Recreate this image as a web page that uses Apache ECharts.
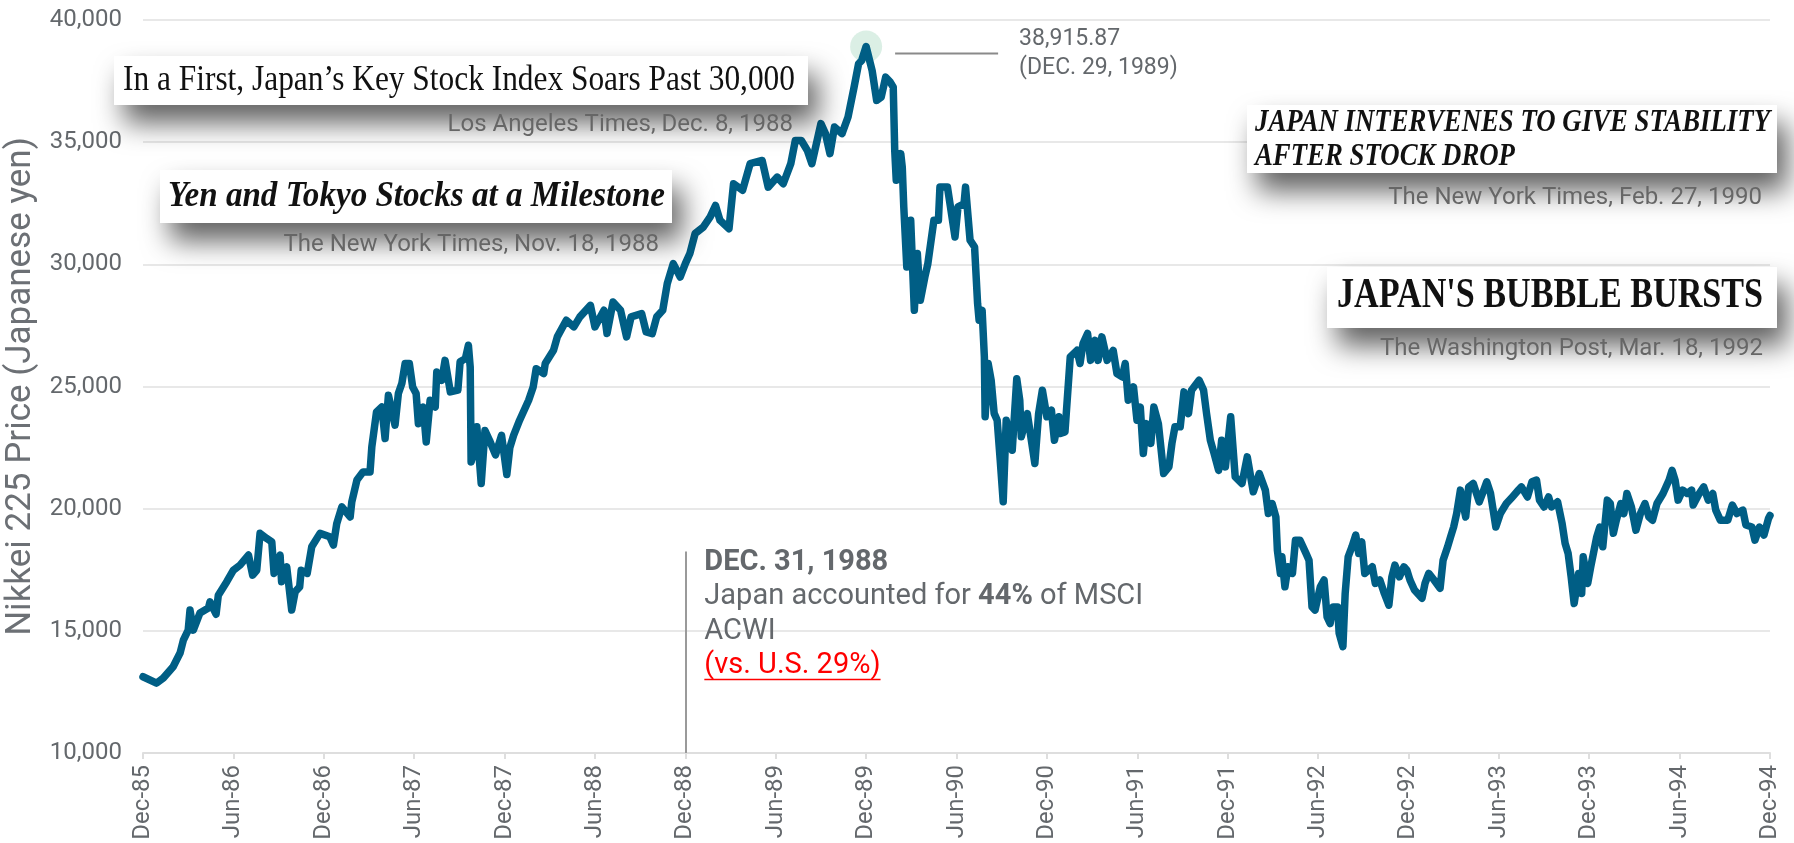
<!DOCTYPE html>
<html>
<head>
    <meta charset="utf-8">
    <title>Nikkei 225</title>
    <script src="https://cdn.jsdelivr.net/npm/echarts@6/dist/echarts.min.js"></script>
    <style>html, body { margin: 0; padding: 0; background: #fff; }</style>
</head>
<body>
    <div id="main" style="width: 1794px;height:843px;"></div>
    <script type="text/javascript">

        // months after the end of Dec 1985
        var months = [
            0, 0.9, 1.35, 2.0, 2.46, 2.68, 3.0, 3.12, 3.34, 3.78, 4.34, 4.45, 4.85, 5.0, 5.56, 6.0, 6.44, 7.0, 7.28, 7.55,
            7.77, 8.21, 8.55, 8.7, 9.1, 9.2, 9.54, 9.87, 10.1, 10.4, 10.5, 10.9, 11.2, 11.75, 12.4, 12.64, 12.86, 13.2, 13.75, 13.86,
            14.2, 14.6, 15.07, 15.19, 15.5, 15.85, 16.07, 16.29, 16.73, 16.95, 17.18, 17.4, 17.68, 17.9, 18.13, 18.28, 18.6, 18.8, 19.06, 19.4,
            19.5, 19.83, 20.05, 20.4, 20.9, 21.05, 21.4, 21.6, 21.72, 21.78, 22.0, 22.16, 22.45, 22.7, 23.0, 23.4, 23.8, 24.15, 24.35, 24.6,
            25.0, 25.6, 25.9, 26.1, 26.6, 26.7, 27.25, 27.5, 28.1, 28.6, 29.0, 29.7, 30.0, 30.6, 30.8, 31.2, 31.7, 32.1, 32.4, 33.1,
            33.4, 33.8, 34.1, 34.5, 34.8, 35.2, 35.66, 36.0, 36.3, 36.65, 37.2, 37.65, 38.0, 38.3, 38.9, 39.2, 39.8, 40.3, 41.1, 41.5,
            42.1, 42.5, 43.0, 43.3, 43.7, 44.1, 44.4, 45.0, 45.3, 45.6, 45.9, 46.4, 46.8, 47.2, 47.5, 47.7, 48.0, 48.4, 48.7, 49.0,
            49.3, 49.6, 49.8, 49.9, 50.0, 50.3, 50.4, 50.5, 50.7, 50.96, 51.2, 51.4, 51.6, 51.9, 52.1, 52.5, 52.8, 52.9, 53.4, 53.6,
            53.9, 54.1, 54.5, 54.6, 54.9, 55.2, 55.4, 55.5, 55.7, 55.85, 55.9, 56.1, 56.3, 56.5, 56.7, 56.9, 57.1, 57.3, 57.7, 58.0,
            58.2, 58.3, 58.7, 59.0, 59.2, 59.45, 59.7, 60.0, 60.3, 60.5, 60.8, 60.9, 61.2, 61.55, 62.0, 62.2, 62.4, 62.7, 62.9, 63.2,
            63.4, 63.65, 64.0, 64.4, 64.65, 65.0, 65.2, 65.4, 65.75, 65.98, 66.2, 66.4, 66.6, 66.9, 67.1, 67.4, 67.75, 68.1, 68.3, 68.5,
            68.85, 69.1, 69.4, 69.6, 70.1, 70.4, 70.6, 70.85, 71.1, 71.4, 71.6, 71.85, 72.2, 72.5, 72.95, 73.3, 73.7, 74.1, 74.5, 74.7,
            74.95, 75.2, 75.3, 75.5, 75.6, 75.8, 76.0, 76.3, 76.5, 76.8, 77.2, 77.4, 77.6, 77.8, 78.15, 78.4, 78.6, 78.8, 79.0, 79.3,
            79.4, 79.65, 79.8, 80.0, 80.25, 80.5, 80.7, 80.9, 81.1, 81.6, 81.8, 82.1, 82.4, 82.7, 82.9, 83.1, 83.4, 83.7, 83.9, 84.1,
            84.4, 84.9, 85.1, 85.35, 85.7, 86.1, 86.3, 86.6, 86.8, 87.0, 87.2, 87.45, 87.8, 88.0, 88.3, 88.7, 89.0, 89.2, 89.45, 89.8,
            90.1, 90.5, 90.9, 91.3, 91.5, 91.9, 92.2, 92.5, 92.7, 93.0, 93.3, 93.5, 93.9, 94.2, 94.4, 94.6, 94.8, 95.0, 95.3, 95.5,
            95.6, 95.9, 96.1, 96.5, 96.7, 96.9, 97.2, 97.4, 97.6, 97.8, 98.1, 98.3, 98.5, 98.8, 99.1, 99.4, 99.7, 99.96, 100.2, 100.5,
            100.9, 101.3, 101.5, 101.7, 101.9, 102.2, 102.5, 102.8, 102.9, 103.3, 103.6, 103.9, 104.2, 104.4, 104.7, 105.2, 105.5, 105.8, 106.2, 106.4,
            106.8, 107.0, 107.3, 107.6, 107.9, 108.0
        ];

        // Nikkei 225 close (yen)
        var nikkei = [
            13120, 12860, 13070, 13530, 14090, 14620, 15030, 15850, 15030, 15730, 15930, 16190, 15680, 16460, 17010, 17480, 17690, 18100, 17280, 17480,
            18990, 18780, 18640, 17350, 18100, 17010, 17620, 15850, 16600, 16800, 17480, 17350, 18440, 18990, 18850, 18510, 19390, 20070, 19660, 20280,
            21170, 21500, 21500, 22530, 23960, 24160, 22870, 24640, 23420, 24710, 25120, 25940, 25940, 24980, 24710, 23480, 24160, 22730, 24440, 24160,
            25590, 25250, 26070, 24780, 24850, 26010, 26140, 26690, 25800, 21910, 22400, 23350, 21030, 23200, 22800, 22200, 23000, 21400, 22500, 23000,
            23620, 24440, 24980, 25730, 25530, 25940, 26480, 27030, 27710, 27440, 27850, 28320, 27440, 28120, 27170, 28460, 28120, 27030, 27850, 27980,
            27230, 27160, 27850, 28120, 29210, 30030, 29480, 30030, 30440, 31260, 31530, 31940, 32410, 31800, 31460, 33300, 33030, 34120, 34250, 33160,
            33570, 33300, 34120, 35070, 35070, 34660, 34120, 35760, 35350, 34530, 35620, 35350, 36030, 37250, 38210, 38340, 38915.87, 37930, 36710, 36840,
            37660, 37460, 37250, 34660, 33440, 34530, 33980, 32350, 29890, 31800, 28120, 30440, 28530, 29480, 30030, 31800, 31800, 33160, 33160, 32350,
            31120, 32350, 32480, 33160, 30990, 30710, 28400, 27710, 28120, 26210, 23760, 25940, 25260, 23900, 23620, 22000, 20280, 23620, 22390, 25320,
            24440, 22940, 23890, 22670, 21850, 23890, 24850, 23760, 24030, 22800, 23760, 23080, 23140, 26210, 26480, 25940, 26760, 27170, 26070, 26890,
            26070, 27030, 26070, 26480, 25530, 25390, 25940, 24440, 24980, 23620, 24160, 22260, 23480, 22670, 24160, 23480, 21440, 21710, 22670, 23350,
            23350, 24780, 23890, 24850, 25260, 24850, 23890, 22800, 22260, 21570, 22800, 21710, 23760, 21300, 21030, 22120, 20690, 21440, 20760, 19800,
            20210, 19660, 18300, 17350, 18030, 16800, 17620, 17350, 18710, 18710, 18170, 17890, 15980, 15850, 16800, 17080, 15570, 15300, 15980, 15980,
            14900, 14350, 16530, 18030, 18440, 18920, 18170, 18640, 17350, 17620, 16940, 17080, 16530, 16050, 17210, 17690, 17210, 17620, 17480, 17080,
            16670, 16330, 16940, 17350, 17080, 16740, 17890, 18440, 18850, 19250, 19800, 20760, 19660, 20890, 21030, 20280, 20760, 21100, 20620, 19250,
            19800, 20210, 20480, 20760, 20890, 20480, 21100, 21170, 20350, 20070, 20480, 20070, 20280, 19390, 18580, 18170, 17210, 16120, 17350, 16530,
            18030, 16940, 17620, 18850, 19250, 18440, 20350, 20210, 18990, 19530, 20210, 19800, 20620, 20070, 19120, 19800, 20210, 19660, 19530, 20210,
            20620, 21170, 21570, 21170, 20350, 20760, 20620, 20760, 20150, 20620, 20890, 20350, 20620, 19940, 19530, 19530, 20150, 19800, 19940, 19330,
            19250, 18710, 19250, 18920, 19600, 19720
        ];

        var tickLabels = ['Dec-85', 'Jun-86', 'Dec-86', 'Jun-87', 'Dec-87', 'Jun-88', 'Dec-88', 'Jun-89', 'Dec-89', 'Jun-90',
            'Dec-90', 'Jun-91', 'Dec-91', 'Jun-92', 'Dec-92', 'Jun-93', 'Dec-93', 'Jun-94', 'Dec-94'];

        var peak = [48, 38915.87];     // Dec 29, 1989
        var msciMonth = 36;            // Dec 31, 1988

        var grey = '#64686c';
        var sans = 'Roboto';

        var myChart = echarts.init(document.getElementById('main'));

        option = {
            animation: false,
            grid: { left: 143, right: 24, top: 20, bottom: 90, containLabel: false, outerBoundsMode: 'none' },
            xAxis: {
                type: 'value',
                min: 0,
                max: 108,
                interval: 6,
                axisLine: { show: true, lineStyle: { color: '#dedede', width: 2 } },
                axisTick: { show: true, length: 6, lineStyle: { color: '#dedede', width: 2 } },
                splitLine: { show: false },
                axisLabel: {
                    rotate: 90,
                    margin: 12,
                    color: grey,
                    fontFamily: sans,
                    fontSize: 24,
                    formatter: function (v) { return tickLabels[Math.round(v / 6)]; }
                }
            },
            yAxis: {
                type: 'value',
                min: 10000,
                max: 40000,
                interval: 5000,
                name: 'Nikkei 225 Price (Japanese yen)',
                nameLocation: 'middle',
                nameRotate: 90,
                nameGap: 102,
                nameTextStyle: { color: '#6c7075', fontFamily: sans, fontSize: 35 },
                axisLine: { show: false },
                axisTick: { show: false },
                splitLine: { lineStyle: { color: '#e8e8e8', width: 2 } },
                axisLabel: {
                    margin: 21,
                    color: grey,
                    fontFamily: sans,
                    fontSize: 24,
                    formatter: function (v) { return v.toLocaleString('en-US'); }
                }
            },
            series: [
                {
                    // soft halo at the peak, under the line
                    type: 'scatter',
                    z: 1,
                    silent: true,
                    symbolSize: 32,
                    itemStyle: { color: 'rgba(165,215,190,0.5)' },
                    data: [peak]
                },
                {
                    name: 'Nikkei 225',
                    type: 'line',
                    z: 3,
                    showSymbol: false,
                    symbol: 'none',
                    lineStyle: { color: '#005e85', width: 7.5, join: 'round', cap: 'round' },
                    data: months.map(function (m, i) { return [m, nikkei[i]]; }),
                    markLine: {
                        silent: true,
                        symbol: 'none',
                        label: { show: false },
                        lineStyle: { color: '#9a9a9a', width: 2, type: 'solid' },
                        data: [[{ coord: [msciMonth, 10000] }, { coord: [msciMonth, 18250] }]]
                    }
                }
            ]
        };

        myChart.setOption(option);

        // ---- annotations ----
        var ctx = document.createElement('canvas').getContext('2d');
        function textWidth(str, font) {
            ctx.font = font;
            return ctx.measureText(str).width;
        }

        var serif = '"Liberation Serif", "DejaVu Serif", serif';
        var headlines = [
            { lines: ['In a First, Japan\u2019s Key Stock Index Soars Past 30,000'], style: 'normal', weight: 'normal', size: 36,
              box: [114, 56, 694, 49], textX: 123, textW: 672, lineY: [81],
              source: 'Los Angeles Times, Dec. 8, 1988', srcRight: 793, srcY: 125 },
            { lines: ['Yen and Tokyo Stocks at a Milestone'], style: 'italic', weight: 'bold', size: 35,
              box: [160, 170, 512, 53], textX: 168, textW: 497, lineY: [197],
              source: 'The New York Times, Nov. 18, 1988', srcRight: 659, srcY: 245 },
            { lines: ['JAPAN INTERVENES TO GIVE STABILITY', 'AFTER STOCK DROP'], style: 'italic', weight: 'bold', size: 32,
              box: [1247, 105, 530, 68], textX: 1255, textW: 515, lineY: [123, 157],
              source: 'The New York Times, Feb. 27, 1990', srcRight: 1762, srcY: 198 },
            { lines: ['JAPAN\'S BUBBLE BURSTS'], style: 'normal', weight: 'bold', size: 43,
              box: [1327, 267, 450, 61], textX: 1337, textW: 426, lineY: [296],
              source: 'The Washington Post, Mar. 18, 1992', srcRight: 1763, srcY: 349 }
        ];

        var graphics = [];
        headlines.forEach(function (h) {
            var font = h.style + ' ' + h.weight + ' ' + h.size + 'px ' + serif;
            var sx = h.textW / textWidth(h.lines[0], font);
            graphics.push({
                type: 'rect', z: 100,
                shape: { x: h.box[0], y: h.box[1], width: h.box[2], height: h.box[3] },
                style: { fill: '#fff', shadowColor: 'rgba(0,0,0,0.62)', shadowBlur: 28, shadowOffsetX: 10, shadowOffsetY: 18 }
            });
            h.lines.forEach(function (line, k) {
                graphics.push({
                    type: 'text', z: 101,
                    x: h.textX, y: h.lineY[k], scaleX: sx,
                    style: {
                        text: line, fill: '#111', fontFamily: serif, fontSize: h.size,
                        fontStyle: h.style, fontWeight: h.weight, align: 'left', verticalAlign: 'middle'
                    }
                });
            });
            graphics.push({
                type: 'text', z: 101,
                x: h.srcRight, y: h.srcY,
                style: { text: h.source, fill: '#666', fontFamily: sans, fontSize: 24, align: 'right', verticalAlign: 'middle' }
            });
        });

        // peak call-out
        var pk = myChart.convertToPixel({ gridIndex: 0 }, peak);
        graphics.push({
            type: 'line', z: 100,
            shape: { x1: pk[0] + 29, y1: pk[1] + 7, x2: pk[0] + 132, y2: pk[1] + 7 },
            style: { stroke: '#8a8a8a', lineWidth: 2 }
        });
        graphics.push({
            type: 'text', z: 100,
            x: pk[0] + 153, y: pk[1] - 22,
            style: { text: '38,915.87\n(DEC. 29, 1989)', fill: grey, fontFamily: sans, fontSize: 23, lineHeight: 29, align: 'left', verticalAlign: 'top' }
        });

        // MSCI note beside the Dec 31, 1988 marker
        var mx = myChart.convertToPixel({ gridIndex: 0 }, [msciMonth, 10000])[0];
        var noteX = mx + 19, noteY = 545, lh = 34.5, fs = 29;
        graphics.push({
            type: 'text', z: 100,
            x: noteX, y: noteY,
            style: {
                text: '{b|DEC. 31, 1988}\n{n|Japan accounted for }{b|44%}{n| of MSCI}\n{n|ACWI}\n{r|(vs. U.S. 29%)}',
                fontFamily: sans, fontSize: fs, lineHeight: lh, align: 'left', verticalAlign: 'top',
                rich: {
                    b: { fontFamily: sans, fontSize: fs, fontWeight: 'bold', fill: grey, lineHeight: lh },
                    n: { fontFamily: sans, fontSize: fs, fill: grey, lineHeight: lh },
                    r: { fontFamily: sans, fontSize: fs, fill: '#ff0000', lineHeight: lh }
                }
            }
        });
        var uw = textWidth('(vs. U.S. 29%)', fs + 'px ' + sans);
        graphics.push({
            type: 'line', z: 100,
            shape: { x1: noteX, y1: noteY + 3 * lh + 31, x2: noteX + uw, y2: noteY + 3 * lh + 31 },
            style: { stroke: '#ff0000', lineWidth: 1.5 }
        });

        myChart.setOption({ graphic: graphics });
    </script>
</body>
</html>
